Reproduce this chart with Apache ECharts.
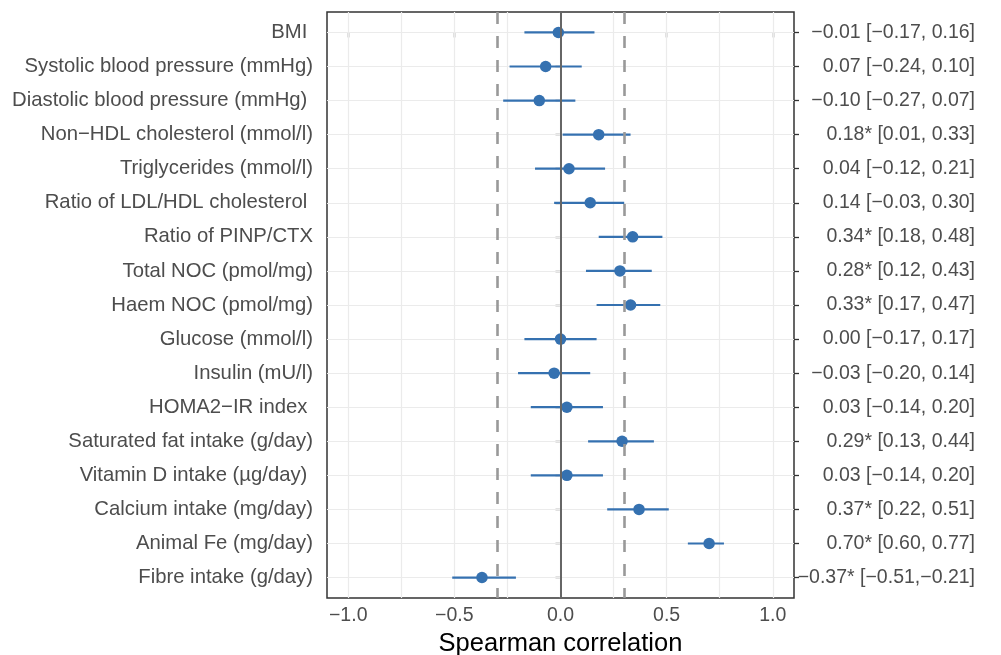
<!DOCTYPE html>
<html>
<head>
<meta charset="utf-8">
<script src="https://cdn.jsdelivr.net/npm/echarts@6/dist/echarts.min.js"></script>
<style>
html,body{margin:0;padding:0;background:#fff;}
#chart{width:1001px;height:655px;}
</style>
</head>
<body>
<div id="chart"></div>
<script>
const categories = [
  "BMI ",
  "Systolic blood pressure (mmHg)",
  "Diastolic blood pressure (mmHg) ",
  "Non\u2212HDL cholesterol (mmol/l)",
  "Triglycerides (mmol/l)",
  "Ratio of LDL/HDL cholesterol ",
  "Ratio of PINP/CTX",
  "Total NOC (pmol/mg)",
  "Haem NOC (pmol/mg)",
  "Glucose (mmol/l)",
  "Insulin (mU/l)",
  "HOMA2\u2212IR index ",
  "Saturated fat intake (g/day)",
  "Vitamin D intake (\u00b5g/day) ",
  "Calcium intake (mg/day)",
  "Animal Fe (mg/day)",
  "Fibre intake (g/day)"
];
const estimates = [-0.01, -0.07, -0.10, 0.18, 0.04, 0.14, 0.34, 0.28, 0.33, 0.00, -0.03, 0.03, 0.29, 0.03, 0.37, 0.70, -0.37];
const lower     = [-0.17, -0.24, -0.27, 0.01, -0.12, -0.03, 0.18, 0.12, 0.17, -0.17, -0.20, -0.14, 0.13, -0.14, 0.22, 0.60, -0.51];
const upper     = [0.16, 0.10, 0.07, 0.33, 0.21, 0.30, 0.48, 0.43, 0.47, 0.17, 0.14, 0.20, 0.44, 0.20, 0.51, 0.77, -0.21];
const rightLabels = [
  "\u22120.01 [\u22120.17, 0.16]",
  "0.07 [\u22120.24, 0.10]",
  "\u22120.10 [\u22120.27, 0.07]",
  "0.18* [0.01, 0.33]",
  "0.04 [\u22120.12, 0.21]",
  "0.14 [\u22120.03, 0.30]",
  "0.34* [0.18, 0.48]",
  "0.28* [0.12, 0.43]",
  "0.33* [0.17, 0.47]",
  "0.00 [\u22120.17, 0.17]",
  "\u22120.03 [\u22120.20, 0.14]",
  "0.03 [\u22120.14, 0.20]",
  "0.29* [0.13, 0.44]",
  "0.03 [\u22120.14, 0.20]",
  "0.37* [0.22, 0.51]",
  "0.70* [0.60, 0.77]",
  "\u22120.37* [\u22120.51,\u22120.21]"
];
const xTicks = [-1, -0.5, 0, 0.5, 1];
const xGridLines = [-1, -0.75, -0.5, -0.25, 0, 0.25, 0.5, 0.75, 1];
const refDashed = [-0.3, 0.3];
const zeroLine = [0];
const xTitle = "Spearman correlation";

const rows = categories.map((_, i) => i);
const FONT = "'Liberation Sans', Arial, sans-serif";
const BLUE = '#3571b0';
const fmtX = v => (Math.abs(v) < 1e-9 ? '0.0' : v.toFixed(1).replace('-', '\u2212'));

const chart = echarts.init(document.getElementById('chart'), null, {renderer: 'canvas'});
const yCommon = {
  type: 'value', inverse: true, min: -0.6, max: 16.6,
  axisLine: {show: false},
  splitLine: {show: false},
  axisTick: {show: true, customValues: rows, length: 5, lineStyle: {color: '#333', width: 1.3}}
};
chart.setOption({
  animation: false,
  backgroundColor: '#fff',
  grid: {left: 327, right: 207, top: 12, bottom: 57, show: true, borderColor: '#333', borderWidth: 1.5,
         backgroundColor: 'transparent', containLabel: false, outerBoundsMode: 'none'},
  xAxis: {
    type: 'value', min: -1.1, max: 1.1,
    axisLine: {show: false},
    splitLine: {show: false},
    axisTick: {show: true, customValues: xTicks, length: 5, lineStyle: {color: '#333', width: 1.3}},
    axisLabel: {customValues: xTicks, formatter: fmtX, color: '#4d4d4d', fontSize: 19.5, fontFamily: FONT, margin: 8},
    name: xTitle, nameLocation: 'middle', nameGap: 31,
    nameTextStyle: {color: '#000', fontSize: 25.5, fontFamily: FONT}
  },
  yAxis: [
    Object.assign({}, yCommon, {
      position: 'left',
      axisLabel: {customValues: rows, formatter: v => categories[Math.round(v)], color: '#4d4d4d',
                  fontSize: 20.3, fontFamily: FONT, margin: 14}
    }),
    Object.assign({}, yCommon, {
      position: 'right',
      axisLabel: {customValues: rows, formatter: v => rightLabels[Math.round(v)], color: '#4d4d4d',
                  fontSize: 19.5, fontFamily: FONT, margin: 181, align: 'right'}
    })
  ],
  series: [
    {
      type: 'line', data: [], z: 1, silent: true,
      markLine: {
        silent: true, symbol: 'none', label: {show: false}, animation: false, z: 1,
        lineStyle: {color: '#ebebeb', width: 1.2, type: 'solid', opacity: 1},
        data: xGridLines.map(v => ({xAxis: v})).concat(rows.map(r => ({yAxis: r})))
      }
    },
    {
      type: 'custom', z: 3,
      data: rows.map(i => [lower[i], upper[i], i]),
      renderItem: (params, api) => {
        const a = api.coord([api.value(0), api.value(2)]);
        const b = api.coord([api.value(1), api.value(2)]);
        return {type: 'line', shape: {x1: a[0], y1: a[1], x2: b[0], y2: b[1]},
                style: {stroke: BLUE, lineWidth: 2.2}};
      },
      encode: {x: [0, 1], y: 2}
    },
    {
      type: 'scatter', z: 4, symbol: 'circle', symbolSize: 11.5,
      itemStyle: {color: BLUE, opacity: 1},
      data: rows.map(i => [estimates[i], i])
    },
    {
      type: 'line', data: [], z: 6, silent: true,
      markLine: {
        silent: true, symbol: 'none', label: {show: false}, animation: false, z: 6,
        data: refDashed.map(v => ({xAxis: v, lineStyle: {color: '#999', width: 2.6, type: [12, 12]}}))
          .concat(zeroLine.map(v => ({xAxis: v, lineStyle: {color: '#666', width: 2, type: 'solid'}})))
      }
    }
  ]
});
</script>
</body>
</html>
